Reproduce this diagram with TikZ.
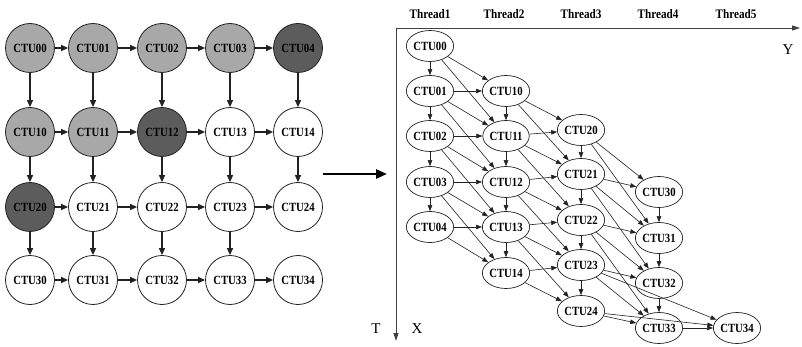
\documentclass[tikz,border=0pt]{standalone}
\usepackage{fontspec}
\setmainfont{Liberation Serif}
\usetikzlibrary{arrows.meta,shapes.geometric}
\definecolor{lg}{HTML}{A8A8A8}
\definecolor{dg}{HTML}{5C5C5C}
\definecolor{ln}{HTML}{222222}
\definecolor{ax}{HTML}{404040}
\newcommand\sqz[1]{\scalebox{0.86}[1]{#1}}
\begin{document}
\begin{tikzpicture}[x=1pt,y=-1pt,
  lab/.style={font=\bfseries\fontsize{12.5}{12.5}\selectfont},
  cnode/.style={circle,draw=ln,line width=0.8pt,minimum size=49pt,inner sep=0pt,lab,fill=white},
  enode/.style={ellipse,draw=ln,line width=0.7pt,minimum width=44pt,minimum height=31pt,inner sep=0pt,lab,fill=white},
  garr/.style={-{Triangle[length=7pt,width=6pt]},line width=1.4pt,draw=ln},
  earr/.style={-{Triangle[length=6pt,width=4.5pt]},line width=0.6pt,draw=ln},
  thr/.style={font=\bfseries\fontsize{13}{13}\selectfont},
  axl/.style={font=\fontsize{15}{15}\selectfont}]
\useasboundingbox (0,0) rectangle (802,347);
% ---------- left grid ----------
\node[cnode,fill=lg] (g00) at (30,48) {\sqz{CTU00}};
\node[cnode,fill=lg] (g01) at (93,48) {\sqz{CTU01}};
\node[cnode,fill=lg] (g02) at (162,48) {\sqz{CTU02}};
\node[cnode,fill=lg] (g03) at (230,48) {\sqz{CTU03}};
\node[cnode,fill=dg] (g04) at (298,48) {\sqz{CTU04}};
\node[cnode,fill=lg] (g10) at (30,132) {\sqz{CTU10}};
\node[cnode,fill=lg] (g11) at (93,132) {\sqz{CTU11}};
\node[cnode,fill=dg] (g12) at (162,132) {\sqz{CTU12}};
\node[cnode] (g13) at (230,132) {\sqz{CTU13}};
\node[cnode] (g14) at (298,132) {\sqz{CTU14}};
\node[cnode,fill=dg] (g20) at (30,207) {\sqz{CTU20}};
\node[cnode] (g21) at (93,207) {\sqz{CTU21}};
\node[cnode] (g22) at (162,207) {\sqz{CTU22}};
\node[cnode] (g23) at (230,207) {\sqz{CTU23}};
\node[cnode] (g24) at (298,207) {\sqz{CTU24}};
\node[cnode] (g30) at (30,280) {\sqz{CTU30}};
\node[cnode] (g31) at (93,280) {\sqz{CTU31}};
\node[cnode] (g32) at (162,280) {\sqz{CTU32}};
\node[cnode] (g33) at (230,280) {\sqz{CTU33}};
\node[cnode] (g34) at (298,280) {\sqz{CTU34}};
\foreach \r in {0,1,2,3}{
  \foreach \a/\b in {0/1,1/2,2/3,3/4}{
    \draw[garr] (g\r\a) -- (g\r\b);
  }
}
\foreach \c in {0,1,2,3,4}{
  \draw[garr] (g0\c) -- (g1\c);
  \draw[garr] (g1\c) -- (g2\c);
}
\foreach \c in {0,1,2,3}{
  \draw[garr] (g2\c) -- (g3\c);
}
% ---------- big arrow ----------
\coordinate (ba) at (323,174);
\coordinate (bb) at (387,174);
\draw[line width=2.6pt,draw=black,-{Triangle[length=11pt,width=9pt]}] (ba) -- (bb);
% ---------- axes ----------
\coordinate (o) at (396,28);
\coordinate (ye) at (800,28);
\coordinate (xe) at (396,341);
\draw[line width=0.9pt,draw=ax,-{Triangle[length=8pt,width=5pt]}] (o) -- (ye);
\draw[line width=0.9pt,draw=ax,-{Triangle[length=8pt,width=5pt]}] (o) -- (xe);
\node[axl] (ly) at (788,50) {Y};
\node[axl] (lx) at (417,329) {X};
\node[axl] (lt) at (376,329) {T};
\node[thr] (t1) at (430,14) {\sqz{Thread1}};
\node[thr] (t2) at (504,14) {\sqz{Thread2}};
\node[thr] (t3) at (581,14) {\sqz{Thread3}};
\node[thr] (t4) at (658,14) {\sqz{Thread4}};
\node[thr] (t5) at (736,14) {\sqz{Thread5}};
% ---------- right graph ----------
\node[enode] (r00) at (430,46) {\sqz{CTU00}};
\node[enode] (r01) at (430,91) {\sqz{CTU01}};
\node[enode] (r02) at (430,136) {\sqz{CTU02}};
\node[enode] (r03) at (430,182) {\sqz{CTU03}};
\node[enode] (r04) at (430,227) {\sqz{CTU04}};
\node[enode] (r10) at (506,91) {\sqz{CTU10}};
\node[enode] (r11) at (506,136) {\sqz{CTU11}};
\node[enode] (r12) at (506,182) {\sqz{CTU12}};
\node[enode] (r13) at (506,227) {\sqz{CTU13}};
\node[enode] (r14) at (506,273) {\sqz{CTU14}};
\node[enode] (r20) at (581,130) {\sqz{CTU20}};
\node[enode] (r21) at (581,174) {\sqz{CTU21}};
\node[enode] (r22) at (581,220) {\sqz{CTU22}};
\node[enode] (r23) at (581,265) {\sqz{CTU23}};
\node[enode] (r24) at (581,311) {\sqz{CTU24}};
\node[enode] (r30) at (659,192) {\sqz{CTU30}};
\node[enode] (r31) at (659,238) {\sqz{CTU31}};
\node[enode] (r32) at (659,283) {\sqz{CTU32}};
\node[enode] (r33) at (659,328) {\sqz{CTU33}};
\node[enode] (r34) at (737,328) {\sqz{CTU34}};
\foreach \s/\t in {00/01,01/02,02/03,03/04,
  00/10,01/10,
  10/11,00/11,01/11,02/11,
  11/12,01/12,02/12,03/12,
  12/13,02/13,03/13,04/13,
  13/14,03/14,04/14,
  10/20,11/20,
  20/21,10/21,11/21,12/21,
  21/22,11/22,12/22,13/22,
  22/23,12/23,13/23,14/23,
  23/24,13/24,14/24,
  20/30,21/30,
  30/31,20/31,21/31,22/31,
  31/32,21/32,22/32,23/32,
  32/33,22/33,23/33,24/33,
  33/34,23/34,24/34}{
  \draw[earr] (r\s) -- (r\t);
}
\end{tikzpicture}
\end{document}
